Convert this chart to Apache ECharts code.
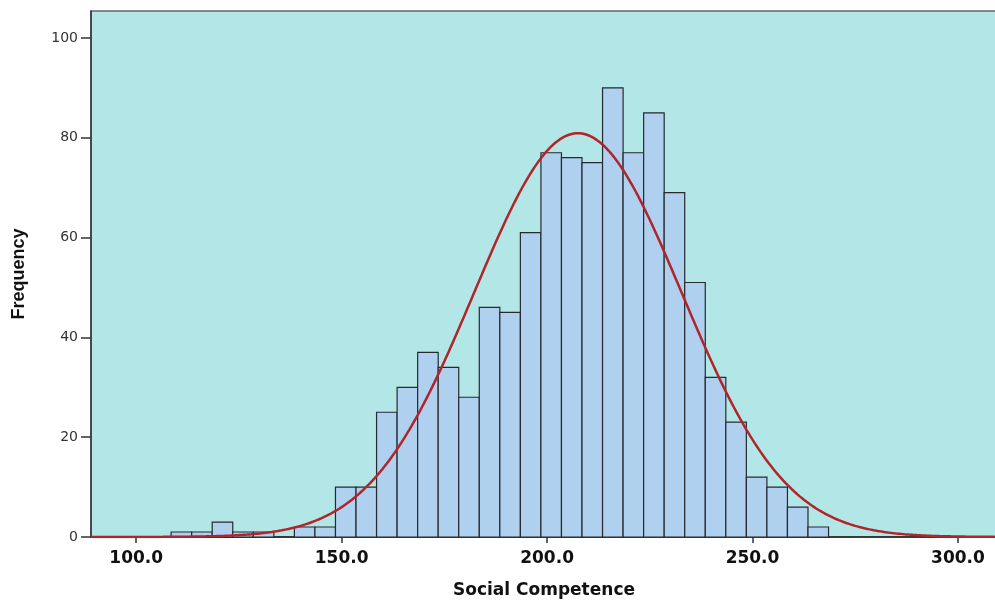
<!DOCTYPE html>
<html lang="en">
<head>
    <meta charset="UTF-8">
    <title>Social Competence histogram</title>
    <script src="https://cdn.jsdelivr.net/npm/echarts@6.0.0/dist/echarts.min.js"></script>
    <style>
        html, body { margin: 0; padding: 0; background: #fff; }
        #chart { width: 995px; height: 601px; }
    </style>
</head>
<body>
    <div id="chart"></div>
    <script type="text/javascript">
        // histogram bins (width 5), left edge of each bin
        var binStarts = [108.5, 113.5, 118.5, 123.5, 128.5, 133.5, 138.5, 143.5,
            148.5, 153.5, 158.5, 163.5, 168.5, 173.5, 178.5, 183.5,
            188.5, 193.5, 198.5, 203.5, 208.5, 213.5, 218.5, 223.5,
            228.5, 233.5, 238.5, 243.5, 248.5, 253.5, 258.5, 263.5];
        var counts = [1, 1, 3, 1, 1, 0, 2, 2,
            10, 10, 25, 30, 37, 34, 28, 46,
            45, 61, 77, 76, 75, 90, 77, 85,
            69, 51, 32, 23, 12, 10, 6, 2];
        var binWidth = 5;
        var xTicks = [100, 150, 200, 250, 300];
        var yTicks = [0, 20, 40, 60, 80, 100];

        // normal curve parameters (SPSS overlay)
        var mean = 207.5;
        var sd = 25.2;
        var n = counts.reduce(function (a, b) { return a + b; }, 0);

        var bars = [];
        for (var i = 0; i < counts.length; i++) {
            if (counts[i] > 0) bars.push([binStarts[i], binStarts[i] + binWidth, counts[i]]);
        }

        var curve = [];
        for (var x = 89; x <= 309.5; x += 0.5) {
            var z = (x - mean) / sd;
            curve.push([x, n * binWidth / (sd * Math.sqrt(2 * Math.PI)) * Math.exp(-0.5 * z * z)]);
        }

        var chart = echarts.init(document.getElementById('chart'));
        chart.setOption({
            animation: false,
            backgroundColor: '#ffffff',
            grid: {
                left: 91, right: -2, top: 11, bottom: 64,
                outerBoundsMode: 'none',
                containLabel: false,
                show: true,
                backgroundColor: '#b3e6e6',
                borderColor: '#666666',
                borderWidth: 1.5
            },
            xAxis: {
                type: 'value',
                min: 89,
                max: 309.5,
                splitLine: { show: false },
                axisLine: { show: true, onZero: false, lineStyle: { color: '#222', width: 1.5 } },
                axisTick: { show: true, length: 6, customValues: xTicks, lineStyle: { color: '#333', width: 1.5 } },
                axisLabel: {
                    customValues: xTicks,
                    formatter: function (v) { return v.toFixed(1); },
                    color: '#111',
                    fontFamily: 'DejaVu Sans, sans-serif',
                    fontWeight: 'bold',
                    fontSize: 17,
                    letterSpacing: 0.8,
                    margin: 13
                },
                name: 'Social Competence',
                nameLocation: 'middle',
                nameGap: 45,
                nameTextStyle: {
                    color: '#111',
                    fontFamily: 'DejaVu Sans, sans-serif',
                    fontWeight: 'bold',
                    fontSize: 17,
                    letterSpacing: 2.5
                }
            },
            yAxis: {
                type: 'value',
                min: 0,
                max: 105.4,
                splitLine: { show: false },
                axisLine: { show: true, lineStyle: { color: '#333', width: 1.5 } },
                axisTick: { show: true, length: 10, customValues: yTicks, lineStyle: { color: '#333', width: 1.5 } },
                axisLabel: {
                    customValues: yTicks,
                    color: '#333',
                    fontFamily: 'DejaVu Sans, sans-serif',
                    fontSize: 14,
                    margin: 13
                },
                name: 'Frequency',
                nameLocation: 'middle',
                nameGap: 63,
                nameRotate: 90,
                nameTextStyle: {
                    color: '#111',
                    fontFamily: 'Liberation Sans Narrow, Liberation Sans, Arial, sans-serif',
                    fontWeight: 'bold',
                    fontSize: 18
                }
            },
            series: [
                {
                    type: 'custom',
                    data: bars,
                    renderItem: function (params, api) {
                        var p0 = api.coord([api.value(0), api.value(2)]);
                        var p1 = api.coord([api.value(1), 0]);
                        return {
                            type: 'rect',
                            shape: { x: p0[0], y: p0[1], width: p1[0] - p0[0], height: p1[1] - p0[1] },
                            style: { fill: '#afd0ee', stroke: '#262a2e', lineWidth: 1.2 }
                        };
                    },
                    encode: { x: [0, 1], y: 2 },
                    z: 2
                },
                {
                    type: 'line',
                    data: curve,
                    showSymbol: false,
                    smooth: false,
                    lineStyle: { color: '#b0252b', width: 2.5 },
                    z: 3
                }
            ]
        });
    </script>
</body>
</html>
